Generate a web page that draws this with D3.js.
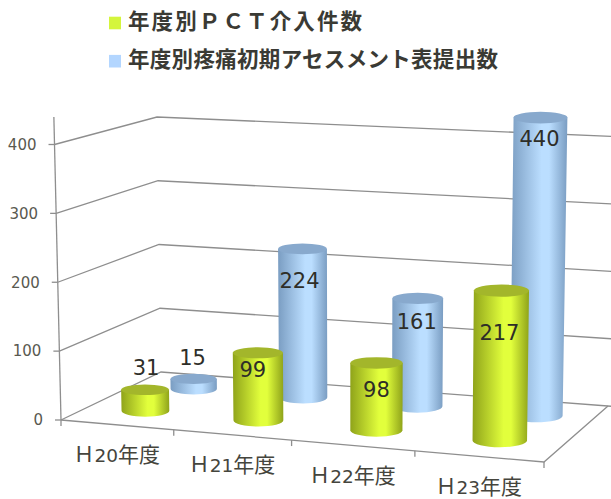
<!DOCTYPE html>
<html>
<head>
<meta charset="utf-8">
<script src="https://cdn.jsdelivr.net/npm/d3@7"></script>
<style>
  html, body { margin: 0; padding: 0; background: #fff; }
  svg { display: block; }
  text { font-family: "DejaVu Sans", "Noto Sans CJK JP", sans-serif; }
</style>
</head>
<body>
<script>
// chart data
const categories = ["Ｈ20年度", "Ｈ21年度", "Ｈ22年度", "Ｈ23年度"];
const seriesNames = ["年度別ＰＣＴ介入件数", "年度別疼痛初期アセスメント表提出数"];
const pctValues = [31, 99, 98, 217];
const assessmentValues = [15, 224, 161, 440];
const valueTicks = [0, 100, 200, 300, 400];
const axisTop = 440;

const width = 611, height = 499;

// label nudges from the top of each cylinder, these were hand placed in the original
const pctNudge = [[1, -22], [-5, 17], [0, 27], [-2, 42]];
const assessmentNudge = [[-1, -21], [-3, 32], [-1, 23], [-1, 21]];

const svg = d3.select("body").append("svg")
    .attr("width", width)
    .attr("height", height);

// unit square -> quad (corners: u0v0, u1v0, u1v1, u0v1)
function homography(q) {
    const [p0, p1, p2, p3] = q;
    const dx1 = p1[0] - p2[0], dx2 = p3[0] - p2[0], sx = p0[0] - p1[0] + p2[0] - p3[0];
    const dy1 = p1[1] - p2[1], dy2 = p3[1] - p2[1], sy = p0[1] - p1[1] + p2[1] - p3[1];
    const det = dx1 * dy2 - dx2 * dy1;
    const g = (sx * dy2 - dx2 * sy) / det;
    const h = (dx1 * sy - sx * dy1) / det;
    const a = p1[0] - p0[0] + g * p1[0], b = p3[0] - p0[0] + h * p3[0], c = p0[0];
    const d = p1[1] - p0[1] + g * p1[1], e = p3[1] - p0[1] + h * p3[1], f = p0[1];
    return (u, v) => {
        const w = g * u + h * v + 1;
        return [(a * u + b * v + c) / w, (d * u + e * v + f) / w];
    };
}

// floor: front-left, front-right, back-right, back-left
const floor = homography([[61, 420], [544, 462], [608, 406], [161, 372]]);

const x = d3.scaleBand().domain(categories).range([0, 1]);
const z = d3.scalePoint().domain(seriesNames).range([0, 1]).padding(0.59);

// pixels for 400 at the front and back of the floor, left and right
const yFront = d3.scaleLinear().domain([0, 1]).range([275.5, 280]);
const yBack = d3.scaleLinear().domain([0, 1]).range([255, 269.5]);
const y = d3.scaleLinear().domain([0, 400]).range([0, 1]);

// verticals fan out a little from around x=360
function project(u, v, value) {
    const a = floor(u, v);
    const h = y(value) * (yFront(u) + (yBack(u) - yFront(u)) * v);
    return [a[0] + (a[0] - 360) * h / 12700, a[1] - h];
}

const colors = {
    [seriesNames[0]]: { edge: "#8fa31a", mid: "#e2ff3c", top: "#a3b62b", key: "#d4f53c", shift: 0.002 },
    [seriesNames[1]]: { edge: "#7a9dc2", mid: "#bbdeff", top: "#88a9cd", key: "#b3d6ff", shift: 0.012 }
};

const defs = svg.append("defs");
seriesNames.forEach((s, i) => {
    const g = defs.append("linearGradient").attr("id", "side" + i);
    g.append("stop").attr("offset", "0%").attr("stop-color", colors[s].edge);
    g.append("stop").attr("offset", "55%").attr("stop-color", colors[s].mid);
    g.append("stop").attr("offset", "68%").attr("stop-color", colors[s].mid);
    g.append("stop").attr("offset", "100%").attr("stop-color", colors[s].edge);
});

const lineColor = "#8e8e8e";
const grid = svg.append("g")
    .attr("fill", "none")
    .attr("stroke", lineColor)
    .attr("stroke-width", 1.3);

const line = d3.line();

// walls
valueTicks.forEach(t => {
    grid.append("path").attr("d", line([project(0, 0, t), project(0, 1, t), project(1.01, 1, t)]));
    const p = project(0, 0, t);
    grid.append("path").attr("d", line([[p[0] - 6, p[1]], p]));
});
// floor edges and the value axis
grid.append("path").attr("d", line([project(0, 0, 0), project(1, 0, 0), project(1, 1, 0)]));
grid.append("path").attr("d", line([project(0, 0, 0), project(0, 0, axisTop)]));

// category ticks
const edges = categories.map(c => x(c)).concat([1]);
edges.forEach(u => {
    const p = project(u, 0, 0);
    grid.append("path").attr("d", line([p, [p[0], p[1] + 6]]));
});

// value labels
svg.append("g").selectAll("text")
    .data(valueTicks)
    .join("text")
    .attr("x", d => project(0, 0, d)[0] - 18)
    .attr("y", d => project(0, 0, d)[1])
    .attr("dy", "0.35em")
    .attr("text-anchor", "end")
    .attr("font-size", 15)
    .attr("fill", "#595950")
    .text(d => d);

// category labels, digits in the latin font, the rest a bit bigger
const catLabels = svg.append("g").selectAll("text")
    .data(categories)
    .join("text")
    .attr("x", d => project(x(d) + x.bandwidth() / 2, 0, 0)[0])
    .attr("y", d => project(x(d) + x.bandwidth() / 2, 0, 0)[1] + 32)
    .attr("dy", "0.35em")
    .attr("text-anchor", "middle")
    .attr("fill", "#45453d");
catLabels.append("tspan").attr("font-size", 21).text(d => d.slice(0, 1));
catLabels.append("tspan").attr("font-size", 18.5).text(d => d.slice(1, 3));
catLabels.append("tspan").attr("font-size", 21).text(d => d.slice(3));

// cylinders, back row first
const radius = 0.054;
const bars = [];
[assessmentValues, pctValues].forEach((vals, row) => {
    const s = seriesNames[1 - row];
    vals.forEach((value, i) => {
        bars.push({ s, idx: 1 - row, value, cat: categories[i],
            nudge: (row ? pctNudge : assessmentNudge)[i] });
    });
});

const cyl = svg.append("g").selectAll("g")
    .data(bars)
    .join("g");

cyl.each(function (d) {
    const u = x(d.cat) + x.bandwidth() / 2 + colors[d.s].shift, v = z(d.s);
    const b0 = project(u - radius, v, 0), b1 = project(u + radius, v, 0);
    const t0 = project(u - radius, v, d.value), t1 = project(u + radius, v, d.value);
    const rxB = (b1[0] - b0[0]) / 2, rxT = (t1[0] - t0[0]) / 2;
    const ryB = rxB * 0.25, ryT = rxT * 0.22;
    const base = project(u, v, 0), top = project(u, v, d.value);
    const g = d3.select(this);

    g.append("path")
        .attr("d", `M${top[0] - rxT},${top[1]} L${base[0] - rxB},${base[1]}
            A${rxB},${ryB} 0 0 0 ${base[0] + rxB},${base[1]}
            L${top[0] + rxT},${top[1]} Z`)
        .attr("fill", `url(#side${d.idx})`);
    g.append("ellipse")
        .attr("cx", top[0]).attr("cy", top[1])
        .attr("rx", rxT).attr("ry", ryT)
        .attr("fill", colors[d.s].top);
    d.labelPos = [top[0] + d.nudge[0], top[1] + d.nudge[1]];
});

// data labels on top of everything
svg.append("g").selectAll("text")
    .data(bars)
    .join("text")
    .attr("x", d => d.labelPos[0])
    .attr("y", d => d.labelPos[1])
    .attr("dy", "0.35em")
    .attr("text-anchor", "middle")
    .attr("font-size", 21)
    .attr("fill", "#2e2e28")
    .text(d => d.value);

// legend
const legendWidths = [234, 370];
const legend = svg.append("g").selectAll("g")
    .data(seriesNames)
    .join("g")
    .attr("transform", (d, i) => `translate(109,${23 + i * 38.2})`);
legend.append("rect")
    .attr("y", -6.3).attr("width", 12).attr("height", 12.6)
    .attr("fill", d => colors[d].key);
legend.append("text")
    .attr("x", 19)
    .attr("y", -1.5)
    .attr("dy", "0.35em")
    .attr("font-family", "Noto Sans CJK JP")
    .attr("font-size", 21.5)
    .attr("font-weight", 700)
    .attr("fill", "#3a3a34")
    .attr("textLength", (d, i) => legendWidths[i])
    .text(d => d);
</script>
</body>
</html>
